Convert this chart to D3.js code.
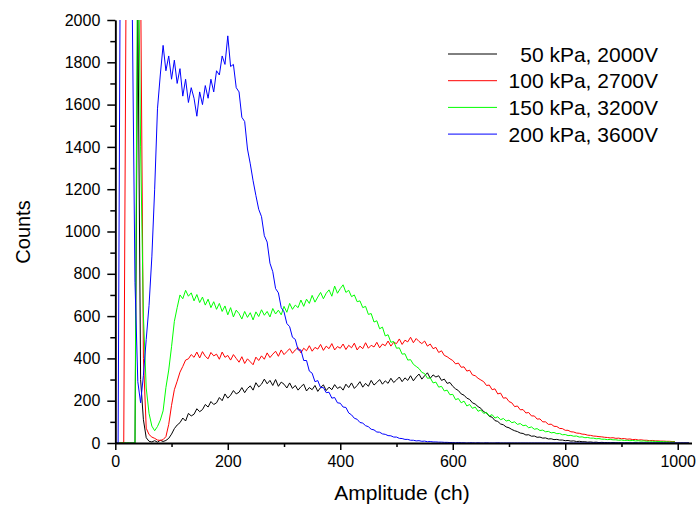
<!DOCTYPE html>
<html><head><meta charset="utf-8">
<script src="https://cdn.jsdelivr.net/npm/d3@7"></script>
<style>
html,body{margin:0;padding:0;background:#fff;}
svg{display:block;font-family:"Liberation Sans",Arial,sans-serif;}
</style></head>
<body><svg id="c" width="698" height="511"></svg>
<script>
// channel step of the histogram (channels 0,5,10,...)
const CH_STEP = 5;
const seriesNames = [" 50 kPa, 2000V", "100 kPa, 2700V", "150 kPa, 3200V", "200 kPa, 3600V"];
const seriesColors = ["#000000", "#ff0000", "#00ff00", "#0000ff"];
const xTicks = [0, 200, 400, 600, 800, 1000];
const yTicks = [0, 200, 400, 600, 800, 1000, 1200, 1400, 1600, 1800, 2000];

const black50 = [0,0,0,0,0,0,0,0,2100,300,110,25,8,5,11,4,13,7,12,22,
42,68,85,96,118,104,140,128,136,162,148,158,182,170,196,182,190,215,200,232,
212,226,248,232,240,262,238,258,270,250,285,265,278,302,280,296,272,300,268,288,
278,260,284,258,272,250,266,278,246,262,252,272,244,262,275,248,264,252,276,258,
266,250,278,262,284,258,272,290,264,282,268,296,274,286,300,278,294,282,306,286,
298,312,290,308,296,318,294,312,326,302,318,332,306,322,312,318,296,302,282,286,
268,256,248,232,226,212,206,190,184,172,164,148,142,126,122,106,102,90,86,76,
72,64,58,54,47,45,38,39,32,33,27,28,23,24,19,20,16,17,14,14,
11,12,9,10,7,8,6,6,4,5,3,4,2,3,2,2,1,2,1,1,
1,0,1,0,0,1,0,0,0,0,0,0,0,0,0,0,0,0,0,0,0,0,0,0,0];

const red100 = [0,0,0,0,2600,2600,2600,2600,2600,2200,400,70,40,28,22,14,12,16,30,88,
178,252,292,335,362,392,398,418,405,430,
402,432,410,398,428,412,420,396,430,405,414,392,418,400,382,408,376,398,384,370,
406,390,412,396,426,404,420,434,410,440,418,432,446,424,440,452,426,448,436,460,
434,452,444,466,438,458,446,470,440,456,448,468,442,462,450,472,440,458,446,474,
448,462,454,476,450,468,460,482,458,476,470,492,466,486,478,500,474,494,480,470,
482,458,468,446,452,428,436,414,408,398,390,374,378,358,360,340,344,322,318,306,
298,290,272,274,252,256,232,236,212,214,
196,190,172,175,157,158,142,144,128,128,113,114,100,100,88,89,79,78,69,68,
60,60,53,52,47,46,42,41,37,36,33,32,30,29,27,26,24,25,22,23,
20,21,18,19,16,17,14,15,13,13,11,12,10,10,9,9,8,8,7,7];

const green150 = [0,0,0,0,0,0,0,0,2600,1400,600,260,140,80,58,78,108,152,262,345,
455,575,640,700,682,722,694,710,672,702,664,690,652,680,640,668,632,660,622,648,
606,640,596,628,612,586,622,594,616,582,620,598,630,604,622,596,636,610,628,606,
646,618,660,632,652,640,676,646,680,660,698,666,690,712,682,708,724,694,742,708,
730,748,712,722,692,700,668,672,640,646,608,612,572,578,540,548,506,512,476,480,
448,450,420,422,392,394,372,362,352,334,328,306,308,284,288,264,268,246,250,228,
230,205,210,190,198,175,182,164,170,150,156,140,145,128,134,118,124,110,116,104,
108,96,100,88,92,82,84,72,76,65,68,59,61,53,55,48,50,44,45,39,
40,35,36,32,33,28,29,25,26,23,23,20,21,18,18,16,17,15,15,13,
14,12,13,11,12,10,11,9,10,8,9,8,8,7,7,6,6,5,5,5];

const blue200 = [0,0,3000,3000,3000,3000,2100,760,290,190,320,490,650,880,1200,1580,1740,1880,1760,1830,
1720,1810,1700,1770,1640,1720,1610,1680,1630,1545,1660,1600,1690,1630,1720,1660,1760,1740,1830,1790,
1925,1780,1790,1680,1660,1540,1520,1390,1320,1240,1170,1105,1070,980,950,850,810,730,710,640,
620,565,550,500,490,440,440,390,390,340,330,290,295,262,262,238,240,212,215,190,
188,170,168,142,133,117,112,97,94,82,77,65,62,52,51,43,41,35,34,28,
28,22,21,17,17,13,13,10,11,8,9,6,7,5,5,4,4,3,3,2,
2,1,2,1,1,0,1,1,0,1,0,0,1,0,0,0,1,0,0,0,
0,0,0,0,0,0,0,0,0,0,0,0,0,0,0,0,0,0,0,0,
0,0,0,0,0,0,0,0,0,0,0,0,0,0,0,0,0,0,0,0,
0,0,0,0,0,0,0,0,0,0,0,0,0,0,0,0,0,0,0,0,0,0,0,0,0];

const series = [black50, red100, green150, blue200];

const svg = d3.select("#c");
const x = d3.scaleLinear().domain([0, 1024.5]).range([115.3, 691.5]);
const y = d3.scaleLinear().domain([0, 2000]).range([443, 20]);

svg.append("defs").append("clipPath").attr("id", "clip")
  .append("rect").attr("x", x(0)).attr("y", y(2000))
  .attr("width", x(1024.5) - x(0)).attr("height", y(0) - y(2000));

const line = d3.line().x((d, i) => x(i * CH_STEP)).y(d => y(d));
const plot = svg.append("g").attr("clip-path", "url(#clip)");
series.forEach((s, k) => {
  plot.append("path").datum(s).attr("d", line)
    .attr("fill", "none").attr("stroke", seriesColors[k]).attr("stroke-width", 1)
    .attr("stroke-linejoin", "round");
});

// axes
const fmt = d3.format("d");
const yMinor = d3.range(100, 2000, 200);
const xMinor = d3.range(100, 1000, 200);
const gy = svg.append("g").attr("transform", `translate(${x(0)},0)`);
gy.call(d3.axisLeft(y).tickValues(yMinor).tickSize(5).tickFormat("").tickSizeOuter(0));
gy.selectAll(".tick line").attr("stroke-width", 1.5);
const gy2 = svg.append("g").attr("transform", `translate(${x(0)},0)`);
gy2.call(d3.axisLeft(y).tickValues(yTicks).tickFormat(fmt).tickSize(8).tickPadding(7).tickSizeOuter(0));
gy2.selectAll(".tick line").attr("stroke-width", 1.5);
gy2.selectAll("text").attr("font-size", 16).attr("font-family", "Liberation Sans, Arial, sans-serif").attr("fill", "#000");
gy2.select(".domain").attr("stroke-width", 1.8);

const gx = svg.append("g").attr("transform", `translate(0,${y(0)})`);
gx.call(d3.axisBottom(x).tickValues(xMinor).tickSize(4).tickFormat("").tickSizeOuter(0));
gx.selectAll(".tick line").attr("stroke-width", 1.5);
const gx2 = svg.append("g").attr("transform", `translate(0,${y(0)})`);
gx2.call(d3.axisBottom(x).tickValues(xTicks).tickFormat(fmt).tickSize(7).tickPadding(6).tickSizeOuter(0));
gx2.selectAll(".tick line").attr("stroke-width", 1.5);
gx2.selectAll("text").attr("font-size", 16).attr("font-family", "Liberation Sans, Arial, sans-serif").attr("fill", "#000");
gx2.select(".domain").attr("stroke-width", 1.8);

// axis titles
svg.append("text").attr("x", 402).attr("y", 500).attr("text-anchor", "middle")
  .attr("font-size", 21).text("Amplitude (ch)");
svg.append("text").attr("transform", "translate(30,232) rotate(-90)").attr("text-anchor", "middle")
  .attr("font-size", 20).text("Counts");

// legend
const lg = svg.append("g");
seriesNames.forEach((n, k) => {
  const ly = 54 + k * 26.7;
  lg.append("line").attr("x1", 448).attr("x2", 497).attr("y1", ly).attr("y2", ly)
    .attr("stroke", seriesColors[k]).attr("stroke-width", 1);
  lg.append("text").attr("x", 658).attr("y", ly + 7.5).attr("text-anchor", "end")
    .attr("font-size", 21).style("white-space", "pre").text(n);
});
</script></body></html>
